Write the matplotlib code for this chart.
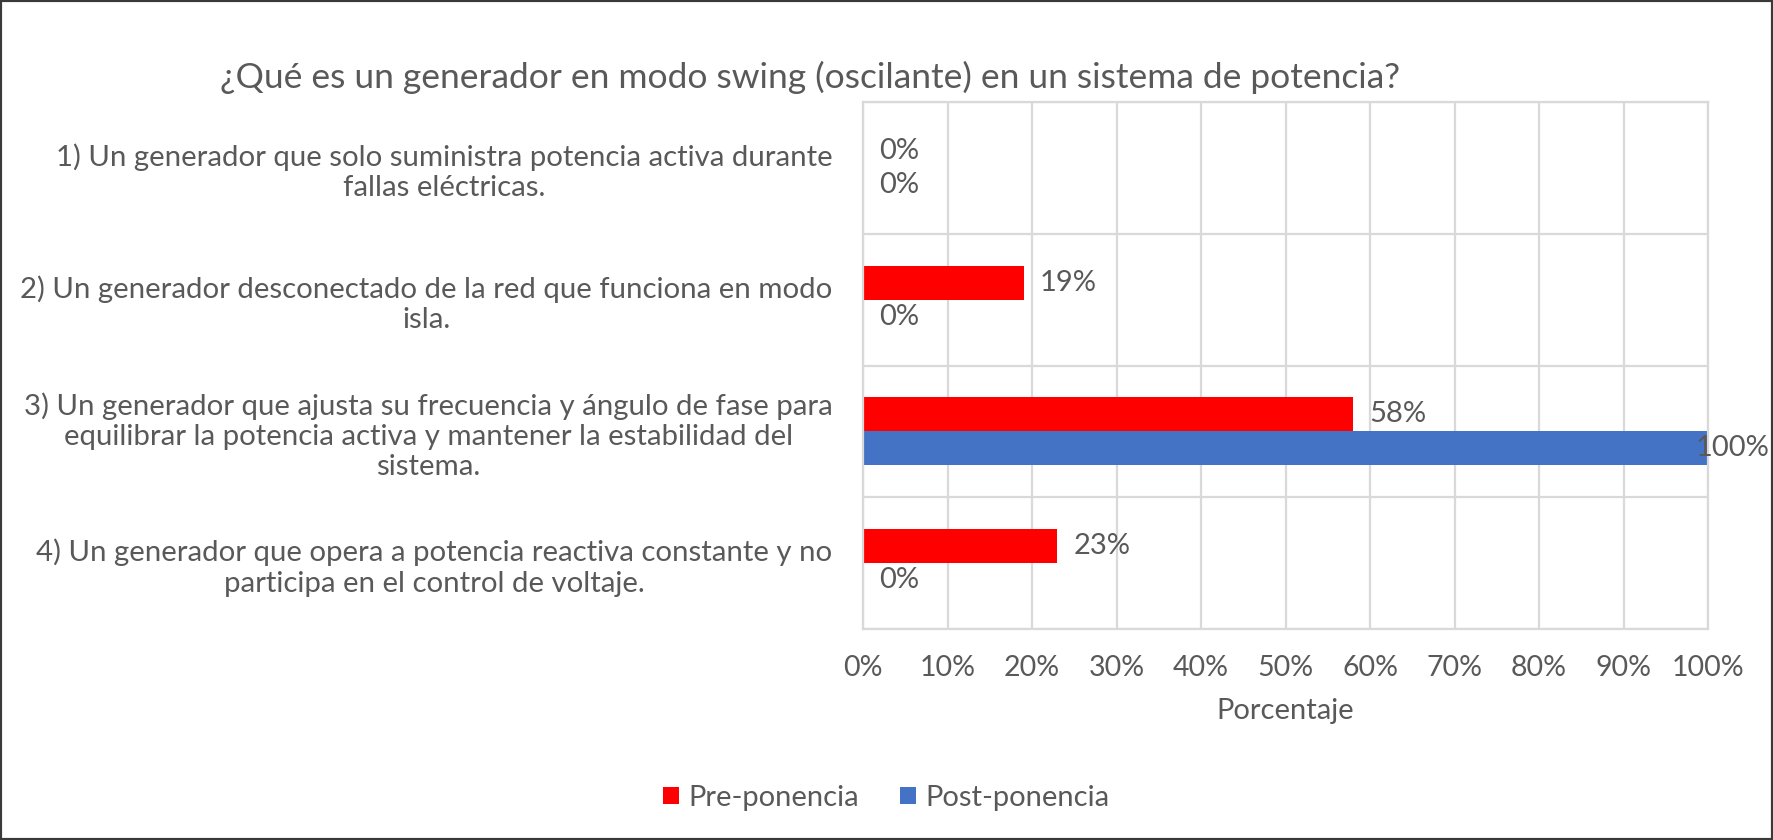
import matplotlib
matplotlib.use("Agg")
import matplotlib.pyplot as plt
from matplotlib.patches import Rectangle
import numpy as np

title = "¿Qué es un generador en modo swing (oscilante) en un sistema de potencia?"
categories = [
    "1) Un generador que solo suministra potencia activa durante\nfallas eléctricas.",
    "2) Un generador desconectado de la red que funciona en modo\nisla.",
    "3) Un generador que ajusta su frecuencia y ángulo de fase para\nequilibrar la potencia activa y mantener la estabilidad del\nsistema.",
    "4) Un generador que opera a potencia reactiva constante y no\nparticipa en el control de voltaje.",
]
pre = [0.0, 0.19, 0.58, 0.23]
post = [0.0, 0.0, 1.0, 0.0]
series_names = ["Pre-ponencia", "Post-ponencia"]
xticks = [0, 0.1, 0.2, 0.3, 0.4, 0.5, 0.6, 0.7, 0.8, 0.9, 1.0]
xlabel = "Porcentaje"

plt.rcParams['font.family'] = ['Lato', 'DejaVu Sans']
TXT = "#595959"
GRID = "#d9d9d9"

fig = plt.figure(figsize=(17.73, 8.40), dpi=100)
ax = fig.add_axes([863/1773, 1-629/840, (1708-863)/1773, (629-102)/840])

y = np.arange(len(categories))
h = 0.258
b1 = ax.barh(y - h/2, pre, height=h, color="#FF0000", label=series_names[0])
b2 = ax.barh(y + h/2, post, height=h, color="#4472C4", label=series_names[1])

ax.set_xlim(0, 1)
ax.set_ylim(len(categories) - 0.5, -0.5)
ax.set_xticks(xticks)
ax.set_xticklabels([f"{int(round(t*100))}%" for t in xticks])
ax.set_yticks(y)
ax.set_yticklabels(categories, ha="right", multialignment="center")
ax.tick_params(axis="y", length=0, pad=22, labelsize=21.2, labelcolor=TXT)
ax.tick_params(axis="x", length=0, pad=19, labelsize=20.5, labelcolor=TXT)

ax.set_yticks(np.arange(len(categories) + 1) - 0.5, minor=True)
ax.tick_params(axis="y", which="minor", length=0)
ax.grid(True, axis="x", color=GRID, linewidth=1.6)
ax.grid(True, axis="y", which="minor", color=GRID, linewidth=1.6)
ax.set_axisbelow(True)
for s in ax.spines.values():
    s.set_color(GRID)
    s.set_linewidth(1.6)

for bars, vals in ((b1, pre), (b2, post)):
    for rect, v in zip(bars, vals):
        yc = rect.get_y() + rect.get_height()/2
        off = 16 if v < 0.95 else -12
        ax.annotate(f"{int(round(v*100))}%", xy=(v, yc), xytext=(off, 0),
                    textcoords="offset pixels", ha="left", va="center",
                    fontsize=21, color=TXT, annotation_clip=False)

ax.set_xlabel(xlabel, fontsize=21, color=TXT, labelpad=12)

fig.text(810/1773, 1-77/840, title, ha="center", va="center", fontsize=25.5, color=TXT)

fig.legend(handles=[b1, b2], labels=series_names, loc="center",
           bbox_to_anchor=(0.5, 1-798/840), ncol=2, frameon=False,
           fontsize=21, labelcolor=TXT, handlelength=0.55, handleheight=0.55,
           handletextpad=0.32, columnspacing=1.4)

fig.patches.append(Rectangle((0, 0), 1, 1, transform=fig.transFigure,
                             fill=False, edgecolor="#3a3a3a", linewidth=3))

fig.savefig("out.png", dpi=100)
